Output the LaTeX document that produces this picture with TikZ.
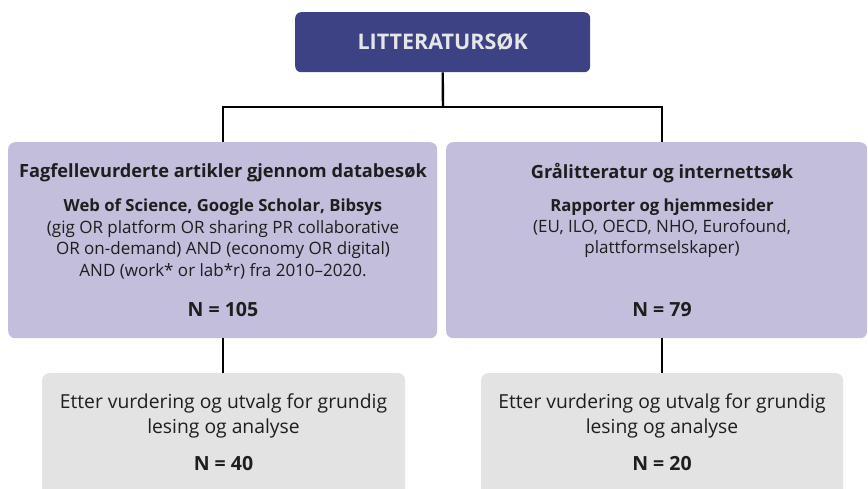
\documentclass[tikz,border=0pt]{standalone}
\usepackage{fontspec}
\setmainfont{Open Sans}
\definecolor{topblue}{HTML}{3C4283}
\definecolor{lav}{HTML}{C2BEDC}
\definecolor{lgrey}{HTML}{E3E3E3}
\definecolor{ink}{HTML}{1E1E1E}
\definecolor{toptext}{HTML}{E6E6EA}
\tikzset{
  box/.style={rectangle, rounded corners=7pt, anchor=north west, inner sep=0pt},
  conn/.style={draw=black, line width=2.4pt},
  ttl/.style={text=ink, font=\fontsize{18.2}{21}\selectfont\bfseries, inner sep=0pt},
  sub/.style={text=ink, font=\fontsize{16.7}{20}\selectfont\bfseries, inner sep=0pt},
  body/.style={text=ink, font=\fontsize{17}{21.5}\selectfont, align=center, inner sep=0pt},
  big/.style={text=ink, font=\fontsize{19.3}{25}\selectfont, align=center, inner sep=0pt},
  nnum/.style={text=ink, font=\fontsize{19.5}{22}\selectfont\bfseries, inner sep=0pt},
}
\begin{document}
\begin{tikzpicture}[x=1pt,y=-1pt]
\useasboundingbox (0,0) rectangle (868,488);
\clip (0,0) rectangle (868,488);
% boxes
\node[box, fill=topblue, minimum width=295pt, minimum height=60pt, rounded corners=6pt] (top) at (295,12) {};
\node[box, fill=lav, minimum width=429pt, minimum height=196pt] (lft) at (8,142) {};
\node[box, fill=lav, minimum width=421pt, minimum height=196pt] (rgt) at (446,142) {};
\node[box, fill=lgrey, minimum width=363pt, minimum height=130pt] (lb) at (42,373) {};
\node[box, fill=lgrey, minimum width=362pt, minimum height=130pt] (rb) at (481,373) {};
% connectors
\coordinate (j) at (443,107);
\draw[conn] (top.south) -- (j);
\draw[conn] (lft.north) |- (j) -| (rb.north |- rgt.north);
\draw[conn] (lft.south) -- (lft.south |- lb.north);
\draw[conn] (rb.north |- rgt.south) -- (rb.north);
% texts
\node[text=toptext, font=\fontsize{21.5}{24}\selectfont\bfseries, inner sep=0pt] (toplbl) at (top.center) {LITTERATURSØK};
\node[ttl] (lt) at (223,173) {Fagfellevurderte artikler gjennom databesøk};
\node[sub] (ls) at (223,207) {Web of Science, Google Scholar, Bibsys};
\node[body] (lbody) at (223,249.5) {(gig OR platform OR sharing PR collaborative\\OR on-demand) AND (economy OR digital)\\AND (work* or lab*r) fra 2010--2020.};
\node[nnum] (ln) at (223,310) {N = 105};
\node[ttl] (rt) at (662,173) {Grålitteratur og internettsøk};
\node[sub] (rs) at (662,207) {Rapporter og hjemmesider};
\node[body] (rbody) at (662,238.75) {(EU, ILO, OECD, NHO, Eurofound,\\plattformselskaper)};
\node[nnum] (rn) at (662,310) {N = 79};
\node[big] (lbt) at (223.5,415.5) {Etter vurdering og utvalg for grundig\\lesing og analyse};
\node[nnum] (lbn) at (223.5,464) {N = 40};
\node[big] (rbt) at (662,415.5) {Etter vurdering og utvalg for grundig\\lesing og analyse};
\node[nnum] (rbn) at (662,464) {N = 20};
\end{tikzpicture}
\end{document}
